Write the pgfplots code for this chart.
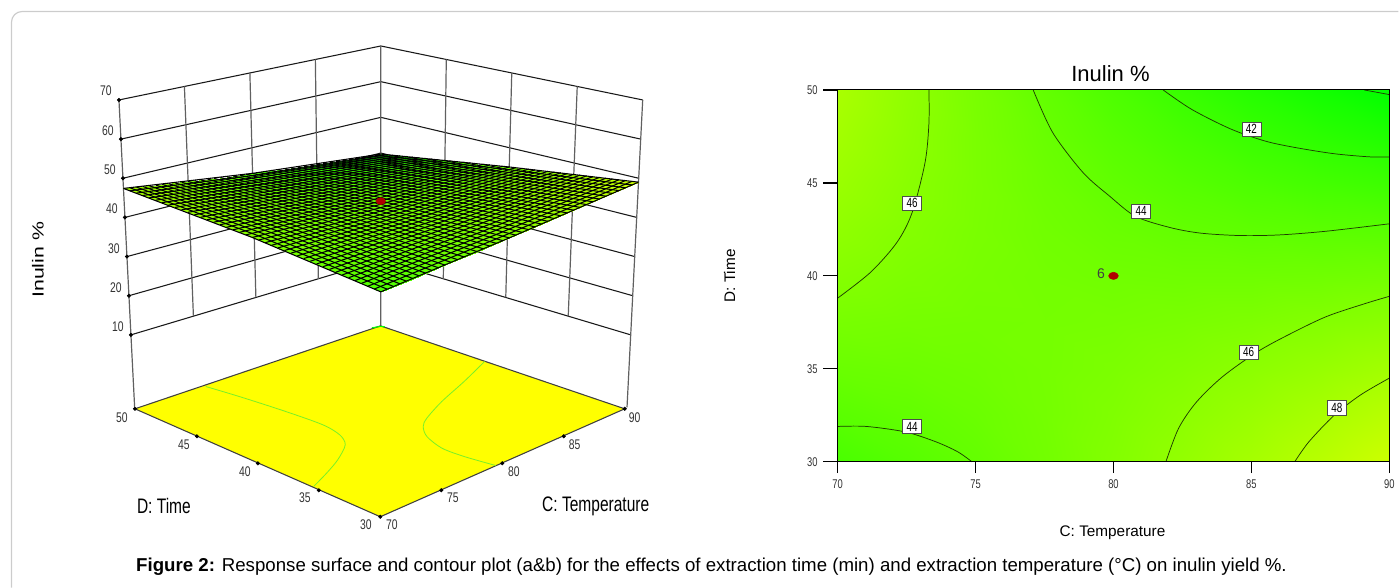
\documentclass[border=0pt]{standalone}
\usepackage{fontspec}
\usepackage{graphicx}
\usepackage{pgfplots}
\usepackage{pgfplotstable}
\pgfplotsset{compat=1.18}
\setmainfont{Liberation Sans}
\newfontfamily\nf[FakeStretch=0.74]{Liberation Sans}
\definecolor{frameg}{HTML}{CCCCCC}
\definecolor{tickc}{HTML}{333333}
\definecolor{ptred}{HTML}{B00000}
\definecolor{cline}{HTML}{1E3C00}
\definecolor{floory}{RGB}{255,255,0}
\definecolor{floorg}{RGB}{120,240,40}
\pgfplotsset{gy/.style={colormap={gy}{rgb255=(0,255,0) rgb255=(255,255,0)},point meta min=39.7,point meta max=51.3}}
% response table: T D z
\pgfplotstableread{
T D z
70 30 43.005
72.5 30 43.589
75 30 44.22
77.5 30 44.899
80 30 45.625
82.5 30 46.399
85 30 47.22
87.5 30 48.089
90 30 49.005
70 32.5 43.783
72.5 32.5 44.129
75 32.5 44.53
77.5 32.5 44.985
80 32.5 45.494
82.5 32.5 46.057
85 32.5 46.674
87.5 32.5 47.345
90 32.5 48.07
70 35 44.495
72.5 35 44.611
75 35 44.786
77.5 35 45.02
80 35 45.313
82.5 35 45.663
85 35 46.074
87.5 35 46.543
90 35 47.07
70 37.5 45.143
72.5 37.5 45.035
75 37.5 44.989
77.5 37.5 45.004
80 37.5 45.081
82.5 37.5 45.22
85 37.5 45.42
87.5 37.5 45.681
90 37.5 46.005
70 40 45.725
72.5 40 45.4
75 40 45.138
77.5 40 44.937
80 40 44.8
82.5 40 44.725
85 40 44.713
87.5 40 44.762
90 40 44.875
70 42.5 46.243
72.5 42.5 45.707
75 42.5 45.232
77.5 42.5 44.82
80 42.5 44.469
82.5 42.5 44.18
85 42.5 43.952
87.5 42.5 43.786
90 42.5 43.681
70 45 46.695
72.5 45 45.955
75 45 45.274
77.5 45 44.651
80 45 44.088
82.5 45 43.583
85 45 43.136
87.5 45 42.748
90 45 42.42
70 47.5 47.083
72.5 47.5 46.145
75 47.5 45.261
77.5 47.5 44.432
80 47.5 43.656
82.5 47.5 42.935
85 47.5 42.267
87.5 47.5 41.654
90 47.5 41.095
70 50 47.405
72.5 50 46.277
75 50 45.195
77.5 50 44.162
80 50 43.175
82.5 50 42.236
85 50 41.345
87.5 50 40.5
90 50 39.705
}\surfdata
% placing a (T,D,z) triple on the page, in the picture's own corner-based scheme
\def\XX{((\thisrow{T}-70)/20)}
\def\YY{((\thisrow{D}-30)/20)}
\def\PX{381+(\XX-\YY)*(248+0.2*\thisrow{z})}
\def\PY{(1-\XX)*(1-\YY)*(292+(43-\thisrow{z})*4.37)+(\XX+\YY-2*\XX*\YY)*(100+(70-\thisrow{z})*3.917)+\XX*\YY*(46+(70-\thisrow{z})*3.57)}
\begin{document}
\begin{tikzpicture}
\begin{axis}[at={(0pt,0pt)},anchor=south west,scale only axis,width=1049.25pt,height=441pt,
  xmin=0,xmax=1399,ymin=0,ymax=588,y dir=reverse,hide axis,gy]
\path (axis cs:0,0) (axis cs:1399,588);
\draw[frameg,line width=0.9pt,rounded corners=8pt] (axis cs:11.5,588) -- (axis cs:11.5,11.5) -- (axis cs:1399,11.5);
% wall horizontals
\addplot[black!90,line width=0.8pt,forget plot] table[x expr=\PX,y expr=\PY,empty line=jump] {
T D z
70 50 10
90 50 10
90 30 10

70 50 20
90 50 20
90 30 20

70 50 30
90 50 30
90 30 30

70 50 40
90 50 40
90 30 40

70 50 50
90 50 50
90 30 50

70 50 60
90 50 60
90 30 60

70 50 70
90 50 70
90 30 70
};
% wall verticals
\addplot[gray!75!black,line width=0.9pt,forget plot] table[x expr=\PX,y expr=\PY,empty line=jump] {
T D z
70 50 -8.5
70 50 70

75 50 10
75 50 70

80 50 10
80 50 70

85 50 10
85 50 70

90 50 -8.5
90 50 70

90 45 10
90 45 70

90 40 10
90 40 70

90 35 10
90 35 70

90 30 -8.5
90 30 70
};
% floor
\addplot[fill=floory,draw=black!75,line width=0.8pt,forget plot] coordinates {(380.5,517) (625,409) (380.7,326) (135,409) (380.5,517)};
\addplot[floorg,line width=0.6pt,smooth,forget plot] coordinates {(205.9,386.7) (241.3,397.3) (285.9,411.7) (323,425) (339.8,435) (345.4,445) (337.9,460) (326.8,473.3) (313.8,486.7)};
\addplot[floorg,line width=0.6pt,smooth,forget plot] coordinates {(484.8,361.7) (464.3,381.7) (442,401.7) (427.1,418.3) (423.4,426.7) (427.1,436.7) (442,448.3) (464.3,456.7) (495.9,465.7)};
\addplot[green,line width=0.8pt,forget plot] coordinates {(372,328) (381,326.5) (385,327)};
% floor and wall ticks
\addplot[only marks,mark=*,mark size=1.3pt,black,forget plot] table[x expr=\PX,y expr=\PY] {
T D z
70 50 10
70 50 20
70 50 30
70 50 40
70 50 50
70 50 60
70 50 70
};
\addplot[only marks,mark=*,mark size=1.3pt,black,forget plot] coordinates {(135,409) (197,436.5) (258,463.5) (319,490.5) (380.5,517) (441.5,490.5) (502.5,463.5) (564,436.5) (625,409)};
% surface
\addplot[surf,shader=interp,mesh/rows=9,point meta=\thisrow{z},forget plot] table[x expr=\PX,y expr=\PY] {\surfdata};
% mesh
\addplot[black,line width=0.8pt,forget plot] table[x expr=\PX,y expr=\PY,empty line=jump] {
T D z
70 30 43.005
80 30 45.625
90 30 49.005

70 30.5 43.166
80 30.5 45.603
90 30.5 48.823

70 31 43.324
80 31 45.579
90 31 48.639

70 31.5 43.479
80 31.5 45.552
90 31.5 48.452

70 32 43.632
80 32 45.524
90 32 48.262

70 32.5 43.783
80 32.5 45.494
90 32.5 48.07

70 33 43.93
80 33 45.462
90 33 47.875

70 33.5 44.075
80 33.5 45.427
90 33.5 47.678

70 34 44.218
80 34 45.391
90 34 47.478

70 34.5 44.358
80 34.5 45.353
90 34.5 47.275

70 35 44.495
80 35 45.313
90 35 47.07

70 35.5 44.63
80 35.5 45.27
90 35.5 46.862

70 36 44.762
80 36 45.226
90 36 46.652

70 36.5 44.891
80 36.5 45.18
90 36.5 46.438

70 37 45.018
80 37 45.132
90 37 46.223

70 37.5 45.143
80 37.5 45.081
90 37.5 46.005

70 38 45.264
80 38 45.029
90 38 45.784

70 38.5 45.383
80 38.5 44.975
90 38.5 45.561

70 39 45.5
80 39 44.919
90 39 45.335

70 39.5 45.614
80 39.5 44.861
90 39.5 45.106

70 40 45.725
80 40 44.8
90 40 44.875

70 40.5 45.834
80 40.5 44.738
90 40.5 44.642

70 41 45.94
80 41 44.674
90 41 44.405

70 41.5 46.043
80 41.5 44.607
90 41.5 44.166

70 42 46.144
80 42 44.539
90 42 43.924

70 42.5 46.243
80 42.5 44.469
90 42.5 43.681

70 43 46.338
80 43 44.397
90 43 43.433

70 43.5 46.431
80 43.5 44.322
90 43.5 43.184

70 44 46.522
80 44 44.246
90 44 42.932

70 44.5 46.61
80 44.5 44.168
90 44.5 42.678

70 45 46.695
80 45 44.088
90 45 42.42

70 45.5 46.778
80 45.5 44.005
90 45.5 42.161

70 46 46.858
80 46 43.921
90 46 41.898

70 46.5 46.935
80 46.5 43.835
90 46.5 41.633

70 47 47.01
80 47 43.747
90 47 41.365

70 47.5 47.083
80 47.5 43.656
90 47.5 41.095

70 48 47.152
80 48 43.564
90 48 40.822

70 48.5 47.219
80 48.5 43.47
90 48.5 40.547

70 49 47.284
80 49 43.374
90 49 40.269

70 49.5 47.346
80 49.5 43.275
90 49.5 39.989

70 50 47.405
80 50 43.175
90 50 39.705
};
\addplot[black,line width=0.8pt,forget plot] table[x expr=\PX,y expr=\PY,empty line=jump] {
T D z
70 30 43.005
70 40 45.725
70 50 47.405

70.5 30 43.118
70.5 40 45.655
70.5 50 47.176

71 30 43.233
71 40 45.588
71 50 46.948

71.5 30 43.35
71.5 40 45.522
71.5 50 46.723

72 30 43.468
72 40 45.46
72 50 46.498

72.5 30 43.589
72.5 40 45.4
72.5 50 46.277

73 30 43.711
73 40 45.343
73 50 46.056

73.5 30 43.836
73.5 40 45.287
73.5 50 45.839

74 30 43.962
74 40 45.235
74 50 45.622

74.5 30 44.09
74.5 40 45.185
74.5 50 45.408

75 30 44.22
75 40 45.138
75 50 45.195

75.5 30 44.352
75.5 40 45.092
75.5 50 44.985

76 30 44.486
76 40 45.05
76 50 44.776

76.5 30 44.622
76.5 40 45.01
76.5 50 44.57

77 30 44.759
77 40 44.973
77 50 44.364

77.5 30 44.899
77.5 40 44.937
77.5 50 44.162

78 30 45.04
78 40 44.905
78 50 43.96

78.5 30 45.184
78.5 40 44.875
78.5 50 43.761

79 30 45.329
79 40 44.848
79 50 43.564

79.5 30 45.476
79.5 40 44.823
79.5 50 43.368

80 30 45.625
80 40 44.8
80 50 43.175

80.5 30 45.776
80.5 40 44.78
80.5 50 42.983

81 30 45.929
81 40 44.763
81 50 42.794

81.5 30 46.084
81.5 40 44.747
81.5 50 42.606

82 30 46.24
82 40 44.735
82 50 42.42

82.5 30 46.399
82.5 40 44.725
82.5 50 42.236

83 30 46.559
83 40 44.718
83 50 42.054

83.5 30 46.722
83.5 40 44.712
83.5 50 41.875

84 30 46.886
84 40 44.71
84 50 41.696

84.5 30 47.052
84.5 40 44.71
84.5 50 41.52

85 30 47.22
85 40 44.713
85 50 41.345

85.5 30 47.39
85.5 40 44.717
85.5 50 41.173

86 30 47.562
86 40 44.725
86 50 41.002

86.5 30 47.736
86.5 40 44.735
86.5 50 40.834

87 30 47.911
87 40 44.748
87 50 40.666

87.5 30 48.089
87.5 40 44.762
87.5 50 40.5

88 30 48.268
88 40 44.78
88 50 40.338

88.5 30 48.45
88.5 40 44.8
88.5 50 40.178

89 30 48.633
89 40 44.823
89 50 40.018

89.5 30 48.818
89.5 40 44.847
89.5 50 39.861

90 30 49.005
90 40 44.875
90 50 39.705
};
% design point
\addplot[only marks,mark=*,mark size=2.6pt,mark options={xscale=1.35,fill=ptred,draw=ptred},forget plot] table[x expr=\PX,y expr=\PY] {
T D z
80 40 45.6
};
% z tick labels
\node[font=\nf\fontsize{10.5pt}{10.5pt}\selectfont,text=tickc] at (axis cs:106,91) {70};
\node[font=\nf\fontsize{10.5pt}{10.5pt}\selectfont,text=tickc] at (axis cs:108,131) {60};
\node[font=\nf\fontsize{10.5pt}{10.5pt}\selectfont,text=tickc] at (axis cs:110,170) {50};
\node[font=\nf\fontsize{10.5pt}{10.5pt}\selectfont,text=tickc] at (axis cs:112,209) {40};
\node[font=\nf\fontsize{10.5pt}{10.5pt}\selectfont,text=tickc] at (axis cs:114,249) {30};
\node[font=\nf\fontsize{10.5pt}{10.5pt}\selectfont,text=tickc] at (axis cs:116,288) {20};
\node[font=\nf\fontsize{10.5pt}{10.5pt}\selectfont,text=tickc] at (axis cs:118,327) {10};
% floor tick labels
\node[font=\nf\fontsize{10.5pt}{10.5pt}\selectfont,text=tickc] at (axis cs:122,418) {50};
\node[font=\nf\fontsize{10.5pt}{10.5pt}\selectfont,text=tickc] at (axis cs:184,445) {45};
\node[font=\nf\fontsize{10.5pt}{10.5pt}\selectfont,text=tickc] at (axis cs:245,472) {40};
\node[font=\nf\fontsize{10.5pt}{10.5pt}\selectfont,text=tickc] at (axis cs:305,498) {35};
\node[font=\nf\fontsize{10.5pt}{10.5pt}\selectfont,text=tickc] at (axis cs:366,525) {30};
\node[font=\nf\fontsize{10.5pt}{10.5pt}\selectfont,text=tickc] at (axis cs:392,525) {70};
\node[font=\nf\fontsize{10.5pt}{10.5pt}\selectfont,text=tickc] at (axis cs:453,498) {75};
\node[font=\nf\fontsize{10.5pt}{10.5pt}\selectfont,text=tickc] at (axis cs:514,472) {80};
\node[font=\nf\fontsize{10.5pt}{10.5pt}\selectfont,text=tickc] at (axis cs:575,445) {85};
\node[font=\nf\fontsize{10.5pt}{10.5pt}\selectfont,text=tickc] at (axis cs:635,418) {90};
% axis titles of the left panel
\node[font=\nf\fontsize{15.75pt}{15.75pt}\selectfont] at (axis cs:164,506) {D: Time};
\node[font=\nf\fontsize{15.75pt}{15.75pt}\selectfont] at (axis cs:596,507) {C: Temperature};
\node[rotate=90,font=\fontsize{12pt}{12pt}\selectfont] at (axis cs:38,260) {\scalebox{1.33}[1]{Inulin \%}};
% right panel texts
\node[font=\fontsize{16.5pt}{16.5pt}\selectfont] at (axis cs:1111,74) {Inulin \%};
\node[font=\fontsize{11.5pt}{11.5pt}\selectfont] at (axis cs:1113,533) {C: Temperature};
\node[rotate=90,font=\fontsize{11.5pt}{11.5pt}\selectfont] at (axis cs:730,276) {D: Time};
% caption
\node[anchor=west,inner sep=0pt,font=\fontsize{14pt}{14pt}\selectfont] at (axis cs:136,567) {\textbf{Figure 2:} Response surface and contour plot (a\&b) for the effects of extraction time (min) and extraction temperature (°C) on inulin yield \%.};
\end{axis}
\begin{axis}[at={(628.5pt,94.5pt)},anchor=south west,scale only axis,width=414pt,height=279pt,
  xmin=70,xmax=90,ymin=30,ymax=50,gy,clip=false,
  xtick={70,75,80,85,90},ytick={30,35,40,45,50},
  tick align=outside,xtick pos=bottom,ytick pos=left,
  major tick length=8.5pt,
  every tick/.style={black,line width=0.8pt},
  axis line style={black,line width=0.8pt},
  /pgf/number format/assume math mode=true,
  ticklabel style={font=\nf\fontsize{9.5pt}{9.5pt}\selectfont,text=tickc},
  xticklabel shift=1.5pt,yticklabel shift=3pt,
  axis on top]
\addplot[surf,shader=interp,mesh/rows=9,point meta=\thisrow{z},forget plot] table[x=T,y=D] {\surfdata};
\addplot[cline,line width=0.55pt,smooth,forget plot] coordinates {(73.31,50) (73.31,48.2) (73.17,46.1) (72.7,43.4) (72.15,41.8) (71.2,40.2) (70,38.8)};
\addplot[cline,line width=0.55pt,smooth,forget plot] coordinates {(77.09,50) (77.8,47.7) (78.9,45.55) (79.85,44.3) (80.8,43.2) (82.05,42.6) (83.15,42.3) (84.56,42.17) (85.98,42.2) (87.7,42.4) (90,42.8)};
\addplot[cline,line width=0.55pt,smooth,forget plot] coordinates {(81.8,50) (82.84,48.95) (84.25,47.9) (85.5,47.25) (86.6,46.9) (88,46.57) (89.3,46.4) (90,46.4)};
\addplot[cline,line width=0.55pt,forget plot] coordinates {(89.09,50) (90,49.75)};
\addplot[cline,line width=0.55pt,smooth,forget plot] coordinates {(70,31.9) (71.05,31.9) (72.47,31.6) (73.57,31.07) (74.35,30.54) (74.87,30)};
\addplot[cline,line width=0.55pt,smooth,forget plot] coordinates {(81.9,30) (82.36,31.8) (83,33.2) (83.94,34.56) (85.2,35.9) (86.3,36.8) (87.7,37.8) (89.1,38.5) (90,38.9)};
\addplot[cline,line width=0.55pt,smooth,forget plot] coordinates {(86.57,30) (87.08,31.07) (88,32.5) (88.96,33.6) (90,34.5)};
\addplot[only marks,mark=*,mark size=2.7pt,mark options={xscale=1.35,fill=ptred,draw=ptred},forget plot] coordinates {(80,40)};
% tick strokes in data coordinates, outside the plot box
\addplot[black,line width=0.9pt,forget plot] coordinates {(70,30) (70,29.41)};
\addplot[black,line width=0.9pt,forget plot] coordinates {(75,30) (75,29.41)};
\addplot[black,line width=0.9pt,forget plot] coordinates {(80,30) (80,29.41)};
\addplot[black,line width=0.9pt,forget plot] coordinates {(85,30) (85,29.41)};
\addplot[black,line width=0.9pt,forget plot] coordinates {(90,30) (90,29.41)};
\addplot[black,line width=0.9pt,forget plot] coordinates {(70,30) (69.457,30)};
\addplot[black,line width=0.9pt,forget plot] coordinates {(70,35) (69.457,35)};
\addplot[black,line width=0.9pt,forget plot] coordinates {(70,40) (69.457,40)};
\addplot[black,line width=0.9pt,forget plot] coordinates {(70,45) (69.457,45)};
\addplot[black,line width=0.9pt,forget plot] coordinates {(70,50) (69.457,50)};
\node[font=\fontsize{10.5pt}{10.5pt}\selectfont,text=black!75] at (axis cs:79.55,40.1) {6};
\foreach \xx/\yy/\tt in {85/47.9/42,81/43.5/44,72.7/43.9/46,84.9/35.9/46,88.1/32.9/48,72.7/31.9/44}{
  \edef\tmp{\noexpand\node[fill=white,draw=black!70,line width=0.4pt,inner xsep=3pt,inner ysep=1.8pt,font=\noexpand\nf\noexpand\fontsize{10pt}{10pt}\noexpand\selectfont] at (axis cs:\xx,\yy) {\tt};}
  \tmp
}
\end{axis}
\end{tikzpicture}
\end{document}
